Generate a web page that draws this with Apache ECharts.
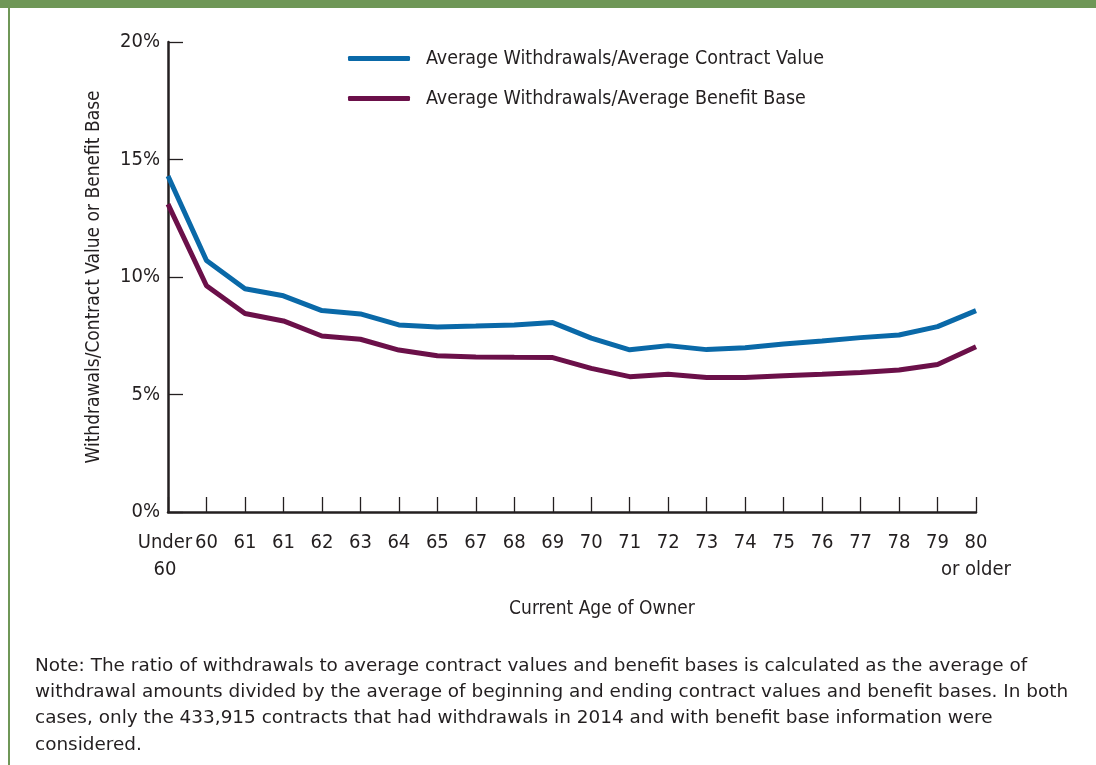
<!DOCTYPE html>
<html>
<head>
<meta charset="utf-8">
<script src="https://cdn.jsdelivr.net/npm/echarts@6/dist/echarts.min.js"></script>
<style>
  html, body { margin: 0; padding: 0; background: #fff; }
  #main { width: 1096px; height: 765px; }
</style>
</head>
<body>
<div id="main"></div>
<script>
// ages along the x axis (the source repeats 61)
var ages = ['Under\n60', '60', '61', '61', '62', '63', '64', '65', '67', '68', '69',
            '70', '71', '72', '73', '74', '75', '76', '77', '78', '79', '80\nor older'];
// withdrawals / contract value, percent
var contractValue = [14.3, 10.7, 9.5, 9.2, 8.57, 8.43, 7.96, 7.87, 7.91, 7.96, 8.06,
                     7.4, 6.9, 7.08, 6.91, 6.99, 7.15, 7.28, 7.42, 7.53, 7.89, 8.57];
// withdrawals / benefit base, percent
var benefitBase = [13.1, 9.63, 8.45, 8.13, 7.49, 7.35, 6.89, 6.65, 6.6, 6.58, 6.57,
                   6.11, 5.76, 5.86, 5.72, 5.72, 5.8, 5.86, 5.94, 6.04, 6.28, 7.03];
var yTicks = [0, 5, 10, 15, 20];

var noteLines = [
  'Note: The ratio of withdrawals to average contract values and benefit bases is calculated as the average of',
  'withdrawal amounts divided by the average of beginning and ending contract values and benefit bases. In both',
  'cases, only the 433,915 contracts that had withdrawals in 2014 and with benefit base information were',
  'considered.'
];

var narrow = "'Liberation Sans Narrow', 'DejaVu Sans Condensed', sans-serif";
var ink = '#231f20';

var myChart = echarts.init(document.getElementById('main'));

var graphics = [
  { type: 'rect', shape: { x: 0, y: 0, width: 1096, height: 8 }, style: { fill: '#6f9757' } },
  { type: 'rect', shape: { x: 8, y: 8, width: 2, height: 757 }, style: { fill: '#6f9757' } }
];
noteLines.forEach(function (t, i) {
  graphics.push({
    type: 'text', x: 35, y: 657 + i * 26.4, scaleX: 1.053,
    style: { text: t, fill: ink, font: "17.5px 'DejaVu Sans', sans-serif" }
  });
});

option = {
  animation: false,
  backgroundColor: '#fff',
  graphic: graphics,
  grid: { left: 168, top: 42, right: 120, bottom: 253 },
  legend: {
    orient: 'vertical',
    left: 343, top: 43,
    itemWidth: 62, itemHeight: 5,
    itemGap: 19,
    icon: 'roundRect',
    textStyle: { color: ink, fontSize: 19.5, fontFamily: narrow, padding: [0, 0, 0, 11], lineHeight: 21 },
    data: ['Average Withdrawals/Average Contract Value', 'Average Withdrawals/Average Benefit Base']
  },
  xAxis: {
    type: 'category',
    data: ages,
    boundaryGap: false,
    name: 'Current Age of Owner',
    nameLocation: 'middle',
    nameGap: 88,
    nameTextStyle: { color: ink, fontSize: 19, fontFamily: narrow, padding: [0, 0, 0, 60] },
    axisLine: { lineStyle: { color: ink, width: 2.5 } },
    axisTick: { inside: true, length: 15, lineStyle: { color: ink, width: 1.3 } },
    axisLabel: {
      color: ink, fontSize: 20, fontFamily: narrow, margin: 17, lineHeight: 27, interval: 0,
      formatter: function (v, i) { return i === 0 ? '{u|' + v.replace('\n', '}\n{u|') + '}' : v; },
      rich: { u: { fontSize: 20, fontFamily: narrow, color: ink, lineHeight: 27, padding: [0, 6, 0, 0] } }
    }
  },
  yAxis: {
    type: 'value',
    min: 0, max: 20, interval: 5,
    name: 'Withdrawals/Contract Value or Benefit Base',
    nameLocation: 'middle',
    nameGap: 64,
    nameTextStyle: { color: ink, fontSize: 19, fontFamily: narrow },
    splitLine: { show: false },
    axisLine: { show: true, lineStyle: { color: ink, width: 2.5 } },
    axisTick: { show: true, inside: true, length: 15, lineStyle: { color: ink, width: 1.3 } },
    axisLabel: {
      color: ink, fontSize: 20, fontFamily: narrow, margin: 8,
      formatter: function (v) { return yTicks.indexOf(v) >= 0 ? v + '%' : ''; }
    }
  },
  series: [
    {
      name: 'Average Withdrawals/Average Contract Value',
      type: 'line', data: contractValue, symbol: 'none',
      lineStyle: { color: '#0a69a8', width: 5 }, itemStyle: { color: '#0a69a8' }
    },
    {
      name: 'Average Withdrawals/Average Benefit Base',
      type: 'line', data: benefitBase, symbol: 'none',
      lineStyle: { color: '#6b1049', width: 5 }, itemStyle: { color: '#6b1049' }
    }
  ]
};

myChart.setOption(option);
</script>
</body>
</html>
